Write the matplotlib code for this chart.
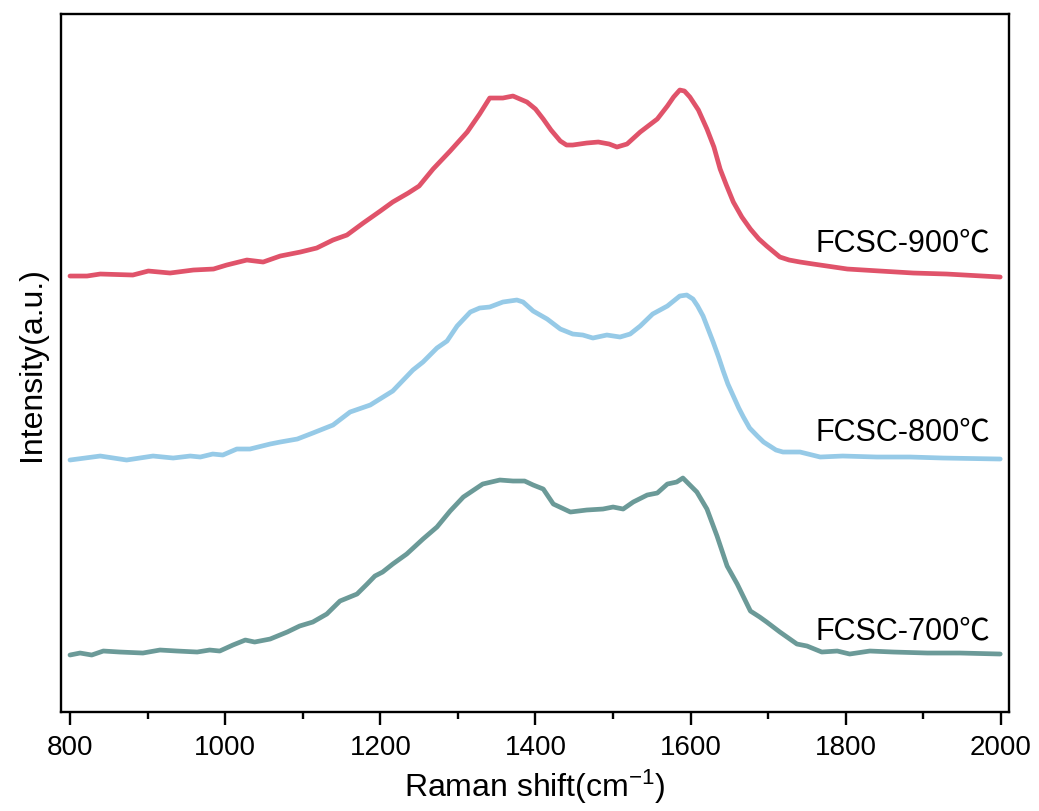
"""
FCSC 三个炭化温度样品的拉曼光谱（纵向错开叠放）。
输出 out.png
"""

import matplotlib
matplotlib.use("Agg")
import matplotlib.pyplot as plt

plt.rcParams["font.family"] = ["Liberation Sans", "Noto Sans CJK SC", "DejaVu Sans"]
plt.rcParams["mathtext.fontset"] = "custom"
plt.rcParams["mathtext.rm"] = "Liberation Sans"
plt.rcParams["mathtext.it"] = "Liberation Sans:italic"

# 拉曼位移 / cm^-1 与强度（a.u.，已含叠放偏移）
shift_900 = [800, 822, 839, 881, 901, 929, 959, 985, 1002, 1028, 1049, 1071, 1097,
             1118, 1139, 1157, 1178, 1200, 1216, 1236, 1250, 1268, 1290, 1312, 1328,
             1341, 1358, 1371, 1389, 1400, 1410, 1420, 1432, 1440, 1448, 1466, 1481,
             1495, 1505, 1518, 1535, 1557, 1570, 1578, 1586, 1592, 1599, 1610, 1621,
             1630, 1638, 1646, 1655, 1666, 1677, 1688, 1698, 1715, 1727, 1741, 1758,
             1802, 1844, 1887, 1930, 1999]
int_900 = [436, 436, 438, 437, 441, 439, 442, 443, 447, 452, 450, 456, 460,
           464, 472, 477, 489, 501, 510, 519, 526, 543, 561, 580, 598,
           614, 614, 616, 610, 603, 593, 582, 571, 567, 567, 569, 570,
           568, 565, 568, 580, 593, 606, 615, 622, 621, 615, 602, 583,
           565, 543, 527, 510, 495, 483, 473, 466, 455, 452, 450, 448,
           443, 441, 439, 438, 435]

shift_800 = [800, 839, 873, 907, 933, 955, 968, 984, 997, 1015, 1032, 1058, 1071,
             1093, 1113, 1139, 1161, 1187, 1216, 1242, 1255, 1273, 1286, 1299, 1316,
             1328, 1341, 1358, 1376, 1384, 1397, 1415, 1432, 1448, 1461, 1474, 1492,
             1509, 1522, 1535, 1551, 1570, 1586, 1595, 1603, 1609, 1616, 1622, 1629,
             1636, 1642, 1648, 1655, 1662, 1668, 1676, 1686, 1694, 1702, 1710, 1719,
             1741, 1767, 1796, 1840, 1883, 1925, 1999]
int_800 = [252, 256, 252, 256, 254, 256, 255, 258, 257, 263, 263, 268, 270,
           273, 279, 287, 300, 307, 321, 342, 350, 364, 371, 386, 400,
           404, 405, 410, 412, 410, 401, 393, 383, 378, 377, 374, 377,
           375, 378, 386, 398, 406, 416, 417, 413, 406, 396, 384, 370,
           355, 341, 328, 316, 304, 295, 284, 276, 270, 266, 262, 260,
           260, 255, 256, 255, 255, 254, 253]

shift_700 = [800, 813, 828, 843, 864, 894, 916, 938, 964, 980, 993, 1010, 1026,
             1038, 1058, 1080, 1096, 1113, 1131, 1148, 1170, 1183, 1193, 1203, 1216,
             1234, 1255, 1273, 1290, 1307, 1332, 1354, 1371, 1386, 1397, 1410, 1423,
             1445, 1466, 1487, 1500, 1513, 1526, 1544, 1557, 1570, 1582, 1590, 1608,
             1621, 1634, 1647, 1660, 1677, 1689, 1698, 1715, 1737, 1750, 1769, 1789,
             1805, 1831, 1861, 1905, 1947, 1999]
int_700 = [57, 59, 57, 61, 60, 59, 62, 61, 60, 62, 61, 67, 72,
           70, 73, 80, 86, 90, 98, 111, 118, 128, 136, 140, 148,
           158, 173, 185, 201, 215, 228, 232, 231, 231, 227, 223, 208,
           200, 202, 203, 205, 203, 210, 217, 219, 228, 230, 234, 220,
           203, 176, 146, 128, 101, 95, 90, 80, 68, 66, 60, 61,
           58, 61, 60, 59, 59, 58]

series = [
    ("FCSC-900℃", shift_900, int_900, "#E0536A", 470),
    ("FCSC-800℃", shift_800, int_800, "#96CAE7", 281),
    ("FCSC-700℃", shift_700, int_700, "#6B9A98", 82),
]

fig = plt.figure(figsize=(10.39, 8.12), dpi=100)
ax = fig.add_axes([0.0587, 0.1219, 0.9124, 0.8596])

for label, x, y, color, label_y in series:
    ax.plot(x, y, color=color, lw=3.4, solid_capstyle="round", solid_joinstyle="round")
    ax.text(1986, label_y, label, ha="right", va="center", fontsize=22)

ax.set_xlim(788.4, 2010.3)
ax.set_ylim(0, 698)
ax.set_xticks(range(800, 2001, 200))
ax.set_xticks(range(900, 2000, 200), minor=True)
ax.set_yticks([])
ax.tick_params(axis="x", which="major", direction="out", length=9, width=1.7,
               labelsize=20, pad=7)
ax.tick_params(axis="x", which="minor", direction="out", length=5, width=1.7)
for sp in ax.spines.values():
    sp.set_linewidth(1.7)

ax.set_xlabel("Raman shift(cm$^{-1}$)", fontsize=23, labelpad=5)
ax.set_ylabel("Intensity(a.u.)", fontsize=23, labelpad=10)

fig.savefig("out.png", dpi=100)
